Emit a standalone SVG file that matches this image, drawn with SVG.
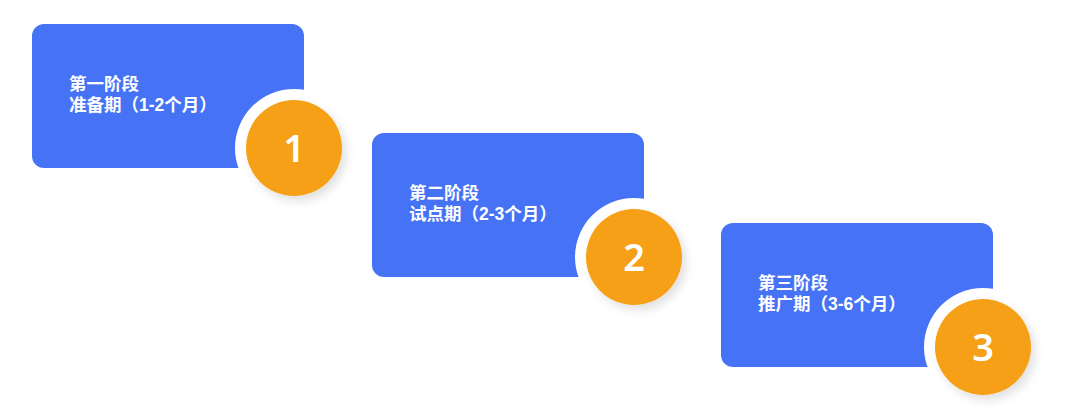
<svg xmlns="http://www.w3.org/2000/svg" width="1080" height="411" viewBox="0 0 1080 411">
<defs>
<filter id="sh" x="-40%" y="-40%" width="180%" height="180%">
<feDropShadow dx="4" dy="5" stdDeviation="5" flood-color="#000" flood-opacity="0.12"/>
</filter>
<style>
.card{fill:#4673F6}
.ring{fill:#fff}
.dot{fill:#F5A015;filter:url(#sh)}
.t{font-family:"Liberation Sans","Noto Sans CJK SC",sans-serif;font-size:17.5px;font-weight:bold;fill:#fff}
.n{font-family:"Noto Sans","Noto Sans CJK SC",sans-serif;font-size:38px;font-weight:600;fill:#fff;text-anchor:middle}
</style>
</defs>
<rect width="1080" height="411" fill="#fff"/>
<g id="connectors"></g>
<g id="stage1">
<rect class="card" x="32" y="24" width="272" height="144" rx="12"/>
<text class="t" x="69" y="89.5">第一阶段</text>
<text class="t" x="69" y="111">准备期（1-2个月）</text>
<circle class="ring" cx="294" cy="148" r="59"/>
<circle class="dot" cx="294" cy="148" r="48"/>
<text class="n" x="294" y="162">1</text>
</g>
<g id="stage2">
<rect class="card" x="372" y="133" width="272" height="144" rx="12"/>
<text class="t" x="409" y="198.5">第二阶段</text>
<text class="t" x="409" y="220">试点期（2-3个月）</text>
<circle class="ring" cx="634" cy="257" r="59"/>
<circle class="dot" cx="634" cy="257" r="48"/>
<text class="n" x="634" y="271">2</text>
</g>
<g id="stage3">
<rect class="card" x="721" y="223" width="272" height="144" rx="12"/>
<text class="t" x="758" y="288.5">第三阶段</text>
<text class="t" x="758" y="310">推广期（3-6个月）</text>
<circle class="ring" cx="983" cy="347" r="59"/>
<circle class="dot" cx="983" cy="347" r="48"/>
<text class="n" x="983" y="361">3</text>
</g>
</svg>
